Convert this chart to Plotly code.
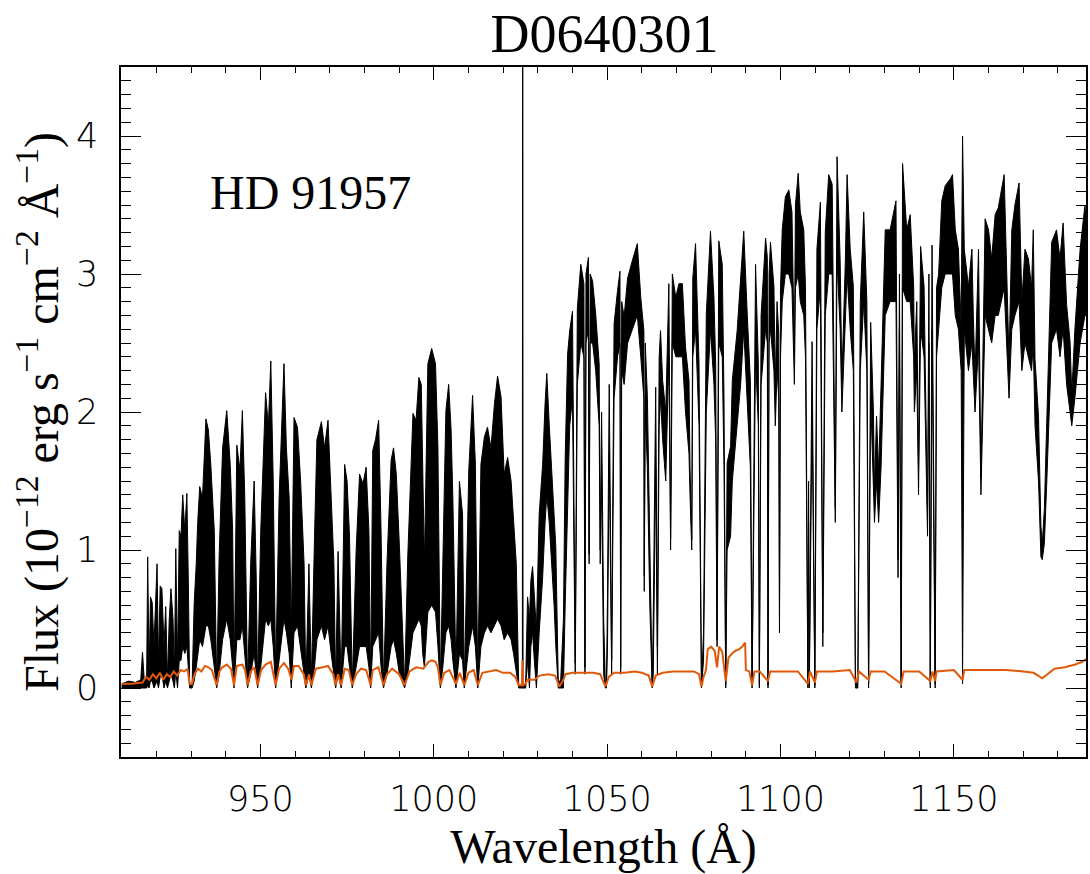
import plotly.graph_objects as go

# ---------------- data ----------------
# black spectrum: wavelength (A), upper and lower edge of the noisy flux band
wave_a = [910.0, 912.0, 914.0, 915.5, 916.0, 916.5, 917.2, 917.5, 917.9, 918.3,
          918.8, 919.3, 920.2, 920.6, 921.1, 921.6, 922.2, 922.7, 923.2, 923.7,
          924.2, 924.8, 925.2, 925.6, 926.1, 926.6, 927.1, 927.6, 928.2, 928.8,
          929.2, 929.6, 930.3, 930.9, 931.5, 931.9, 932.5, 933.3, 934.3, 935.0,
          935.7, 936.7, 937.4, 938.1, 939.1, 940.3, 941.3, 942.0, 942.4, 943.2,
          944.1, 944.8, 945.5, 946.3, 947.2, 948.2, 948.8, 949.2, 950.1, 950.8,
          951.5, 952.3, 953.0, 953.7, 954.4, 955.4, 956.8, 957.5, 958.3, 958.9,
          959.7, 960.7, 961.6, 962.6, 963.1, 964.0]
hi_a = [0.03, 0.05, 0.04, 0.06, 0.26, 0.06, 0.08, 0.95, 0.10, 0.66,
        0.62, 0.30, 0.90, 0.18, 0.74, 0.72, 0.30, 0.59, 0.06, 0.49,
        0.72, 0.50, 0.10, 1.01, 0.18, 1.14, 1.10, 1.40, 1.14, 1.41,
        0.80, 0.02, 0.02, 0.61, 0.90, 1.19, 1.46, 1.38, 1.95, 1.87,
        1.62, 1.14, 0.02, 0.95, 1.74, 2.01, 1.62, 1.14, 0.02, 1.76,
        1.58, 2.01, 1.38, 0.02, 0.90, 1.50, 0.80, 0.02, 1.14, 1.70,
        2.14, 1.90, 2.37, 1.50, 0.10, 1.38, 2.35, 1.74, 1.38, 0.40,
        1.96, 1.89, 1.50, 0.90, 0.02, 0.90]
lo_a = [0.0, 0.0, 0.0, 0.0, 0.0, 0.0, 0.0, 0.02, 0.0, 0.05,
        0.05, 0.0, 0.05, 0.0, 0.08, 0.10, 0.0, 0.05, 0.0, 0.05,
        0.10, 0.05, 0.0, 0.12, 0.0, 0.20, 0.20, 0.30, 0.25, 0.30,
        0.10, 0.0, 0.0, 0.05, 0.15, 0.25, 0.35, 0.30, 0.45, 0.45,
        0.35, 0.15, 0.0, 0.10, 0.35, 0.50, 0.35, 0.15, 0.0, 0.35,
        0.35, 0.45, 0.25, 0.0, 0.10, 0.25, 0.10, 0.0, 0.15, 0.35,
        0.50, 0.45, 0.50, 0.30, 0.0, 0.20, 0.50, 0.40, 0.25, 0.0,
        0.40, 0.45, 0.30, 0.10, 0.0, 0.10]

wave_b = [964.7, 965.6, 966.3, 967.6, 968.5, 969.5, 970.4, 971.2, 971.7, 972.4,
          973.3, 974.3, 975.0, 975.7, 976.5, 977.6, 978.6, 979.6, 980.5, 981.3,
          981.8, 982.4, 983.2, 984.1, 984.8, 985.5, 986.5, 987.7, 988.4, 989.2,
          990.1, 991.6, 992.5, 993.5, 994.0, 994.9, 995.7, 996.4, 996.8, 997.3,
          998.3, 999.4, 1000.5, 1001.2, 1001.9, 1002.6, 1003.5, 1004.3, 1005.0, 1005.5,
          1006.4, 1007.4, 1008.3, 1008.8, 1010.1, 1011.2, 1012.0, 1012.7, 1013.6, 1014.6,
          1015.5, 1016.5, 1017.5, 1018.4, 1019.4, 1020.3, 1021.3, 1022.3, 1023.0, 1023.8,
          1024.5, 1025.3, 1025.55, 1025.65, 1025.75, 1026.5]
hi_b = [0.05, 1.09, 1.80, 1.93, 1.74, 1.94, 1.35, 0.90, 0.02, 0.99,
        0.02, 1.62, 1.50, 1.10, 0.02, 0.99, 1.55, 1.48, 1.60, 1.14,
        0.02, 1.72, 1.80, 1.94, 1.14, 0.02, 0.90, 1.65, 1.74, 1.55,
        1.02, 0.02, 0.95, 1.62, 1.99, 1.94, 2.25, 2.20, 1.62, 0.90,
        2.35, 2.46, 2.35, 1.74, 0.02, 1.02, 2.01, 2.20, 1.87, 1.38,
        0.10, 1.50, 1.26, 0.02, 1.58, 2.12, 1.62, 0.02, 1.62, 1.82,
        1.89, 1.74, 2.06, 2.26, 2.11, 1.55, 1.67, 1.50, 1.24, 0.90,
        0.02, 0.02, 0.02, 8.00, 0.02, 0.03]
lo_b = [0.0, 0.15, 0.35, 0.45, 0.35, 0.45, 0.25, 0.10, 0.0, 0.10,
        0.0, 0.30, 0.30, 0.15, 0.0, 0.15, 0.30, 0.30, 0.30, 0.15,
        0.0, 0.30, 0.35, 0.40, 0.15, 0.0, 0.10, 0.30, 0.35, 0.25,
        0.10, 0.0, 0.10, 0.30, 0.40, 0.45, 0.50, 0.45, 0.25, 0.15,
        0.55, 0.60, 0.55, 0.30, 0.0, 0.15, 0.40, 0.45, 0.35, 0.20,
        0.0, 0.25, 0.20, 0.0, 0.30, 0.45, 0.30, 0.0, 0.30, 0.40,
        0.45, 0.40, 0.45, 0.50, 0.45, 0.35, 0.40, 0.35, 0.25, 0.10,
        0.0, 0.0, 0.0, 0.0, 0.0, 0.0]

wave_c = [1027.05, 1027.6, 1028.0, 1028.5, 1029.0, 1029.6, 1030.4, 1031.4, 1032.1, 1032.6,
          1033.3, 1034.1, 1034.7, 1035.2, 1035.9, 1036.6, 1037.4, 1037.9, 1038.6, 1039.2,
          1040.0, 1040.8, 1041.4, 1042.4, 1043.3, 1043.6, 1043.9, 1044.6, 1044.8, 1045.1,
          1045.8, 1046.7, 1047.7, 1048.0, 1048.4, 1049.0, 1049.5, 1049.8, 1050.1, 1050.6,
          1051.3, 1052.0, 1053.0, 1053.7, 1053.9, 1054.2, 1054.9, 1055.9, 1057.3, 1058.7,
          1059.7, 1060.6, 1060.7, 1061.0, 1061.6, 1062.3, 1063.0, 1063.3, 1064.0, 1064.5,
          1065.0, 1065.4, 1066.0, 1066.9, 1067.8, 1068.3, 1068.8, 1069.8, 1070.7, 1071.7,
          1072.6, 1073.6, 1073.9, 1074.4, 1074.7, 1075.5, 1076.5, 1077.2, 1077.8, 1078.6,
          1079.8, 1080.8, 1081.3, 1081.7, 1082.2, 1083.2, 1083.7, 1084.2, 1084.6, 1085.6,
          1086.1, 1087.5, 1088.5, 1089.4, 1090.4, 1091.3, 1091.8, 1092.2, 1092.8, 1093.6,
          1093.9]
hi_c = [0.66, 0.50, 0.78, 0.88, 0.70, 0.42, 1.26, 1.62, 2.06, 2.28,
        1.91, 1.50, 1.26, 1.02, 0.05, 0.05, 0.50, 1.67, 2.42, 2.59,
        2.73, 0.18, 2.75, 3.07, 2.93, 0.15, 3.00, 3.12, 0.97, 3.00,
        2.95, 2.71, 2.35, 1.00, 2.00, 0.50, 0.02, 0.02, 0.66, 2.20,
        0.20, 2.64, 2.88, 3.02, 0.15, 2.80, 2.69, 2.97, 3.10, 3.22,
        2.83, 2.59, 0.81, 2.50, 2.11, 1.14, 0.02, 0.50, 2.18, 0.30,
        2.40, 2.59, 2.23, 2.00, 2.93, 1.08, 3.00, 2.83, 2.93, 2.93,
        2.47, 2.23, 1.60, 1.07, 2.97, 3.22, 2.35, 0.02, 0.40, 2.71,
        3.31, 2.83, 2.35, 0.35, 3.24, 3.07, 2.11, 0.02, 1.63, 1.75,
        2.23, 2.59, 2.95, 3.31, 2.71, 2.23, 0.02, 1.50, 3.07, 2.35,
        0.02]
lo_c = [0.20, 0.0, 0.30, 0.40, 0.20, 0.0, 0.40, 0.80, 1.20, 1.40,
        1.20, 0.90, 0.60, 0.30, 0.0, 0.0, 0.0, 0.60, 1.40, 1.90,
        2.10, 0.10, 2.20, 2.50, 2.40, 0.10, 2.50, 2.60, 0.90, 2.50,
        2.50, 2.30, 1.90, 0.90, 1.50, 0.10, 0.0, 0.0, 0.30, 1.70,
        0.10, 2.10, 2.40, 2.50, 0.10, 2.30, 2.20, 2.50, 2.60, 2.70,
        2.40, 2.10, 0.70, 2.00, 1.60, 0.60, 0.0, 0.10, 1.60, 0.10,
        1.90, 2.10, 1.80, 1.50, 2.40, 1.00, 2.50, 2.40, 2.40, 2.40,
        2.00, 1.70, 1.40, 1.00, 2.40, 2.60, 1.90, 0.0, 0.20, 2.00,
        2.60, 2.20, 1.80, 0.30, 2.50, 2.40, 1.60, 0.0, 1.00, 1.10,
        1.50, 1.90, 2.20, 2.60, 2.10, 1.60, 0.0, 1.00, 2.40, 1.90,
        0.0]

wave_d = [1094.4, 1095.7, 1096.2, 1096.4, 1096.7, 1097.1, 1098.1, 1098.5, 1099.0, 1099.5,
          1099.7, 1100.0, 1100.5, 1101.4, 1102.4, 1103.3, 1104.0, 1104.3, 1105.1, 1105.7,
          1106.7, 1107.2, 1107.9, 1108.1, 1108.3, 1109.1, 1109.9, 1110.5, 1111.5, 1112.2,
          1112.9, 1113.9, 1114.9, 1115.8, 1116.3, 1117.2, 1117.7, 1118.7, 1119.2, 1120.1,
          1121.0, 1121.6, 1122.3, 1123.0, 1124.0, 1124.9, 1125.4, 1126.0, 1126.8, 1127.1,
          1127.7, 1128.3, 1129.0, 1129.8, 1130.2, 1131.6, 1132.6, 1133.3, 1133.9, 1134.3,
          1134.8, 1135.2, 1136.4, 1137.4, 1138.4, 1138.6, 1139.3, 1139.8, 1140.4, 1141.4,
          1142.4, 1142.8, 1143.2, 1143.7, 1144.6, 1145.0, 1145.6, 1146.5, 1147.5, 1149.0,
          1149.6, 1150.4, 1151.3, 1152.1, 1152.5, 1153.0, 1154.2, 1155.2, 1155.6, 1156.1,
          1157.1, 1157.8, 1159.0, 1160.0, 1160.9, 1161.9, 1162.8, 1164.5, 1165.2, 1165.9,
          1166.7, 1167.6, 1168.8, 1169.6, 1170.5, 1171.5, 1172.4, 1172.9, 1173.4, 1174.4,
          1175.1, 1175.5, 1176.1, 1176.8, 1177.4, 1178.2, 1179.6, 1180.6, 1181.5, 1182.5,
          1183.5, 1184.0, 1184.9, 1186.4, 1187.8, 1188.1]
hi_d = [2.70, 3.26, 3.12, 0.02, 3.00, 3.23, 2.91, 2.20, 2.80, 2.56,
        0.51, 2.90, 3.32, 3.56, 3.61, 3.45, 2.40, 3.50, 3.73, 3.45,
        3.32, 2.90, 0.02, 1.50, 0.02, 2.51, 0.02, 3.18, 3.52, 0.40,
        3.30, 3.72, 3.65, 1.30, 3.85, 3.10, 2.24, 3.10, 3.72, 3.18,
        2.91, 0.05, 0.05, 2.80, 3.45, 2.80, 0.03, 2.65, 2.00, 1.44,
        1.97, 1.57, 2.20, 3.00, 3.32, 3.32, 3.45, 3.53, 0.93, 3.00,
        0.03, 3.80, 3.32, 3.43, 2.91, 2.35, 2.80, 1.60, 3.20, 2.91,
        1.22, 3.00, 0.03, 3.21, 0.03, 2.90, 3.00, 3.53, 3.64, 3.69,
        3.72, 3.32, 3.18, 2.62, 4.00, 3.18, 2.91, 3.18, 2.70, 2.27,
        3.18, 1.52, 3.40, 3.32, 3.11, 3.43, 3.48, 3.72, 3.05, 2.38,
        3.32, 3.50, 3.66, 2.80, 3.18, 3.11, 2.90, 3.32, 2.38, 1.97,
        1.17, 1.05, 1.30, 1.97, 2.45, 3.23, 3.32, 3.11, 3.37, 2.78,
        2.51, 2.13, 2.60, 3.18, 3.50, 3.40]
lo_d = [2.20, 2.60, 2.50, 0.0, 2.50, 2.60, 2.30, 1.90, 2.30, 2.10,
        0.40, 2.40, 2.80, 3.00, 3.00, 2.90, 2.20, 2.90, 3.00, 2.80,
        2.70, 2.40, 0.0, 1.20, 0.0, 2.00, 0.0, 2.60, 2.90, 0.30,
        2.70, 3.00, 3.00, 1.20, 3.10, 2.60, 2.00, 2.60, 3.00, 2.60,
        2.30, 0.0, 0.0, 2.30, 2.80, 2.30, 0.0, 2.10, 1.50, 1.20,
        1.50, 1.20, 1.60, 2.40, 2.70, 2.80, 2.80, 2.80, 0.80, 2.60,
        0.0, 2.90, 2.80, 2.80, 2.40, 2.00, 2.30, 1.40, 2.60, 2.40,
        1.10, 2.50, 0.0, 2.60, 0.0, 2.40, 2.60, 2.90, 3.00, 3.00,
        3.00, 2.70, 2.60, 2.30, 0.03, 2.60, 2.30, 2.50, 2.30, 2.00,
        2.50, 1.40, 2.70, 2.60, 2.50, 2.70, 2.70, 2.90, 2.50, 2.10,
        2.60, 2.70, 2.80, 2.30, 2.50, 2.40, 2.30, 2.50, 1.90, 1.50,
        0.95, 0.93, 1.05, 1.50, 2.00, 2.50, 2.60, 2.40, 2.60, 2.20,
        2.00, 1.90, 2.10, 2.50, 2.70, 2.70]

# orange error spectrum
err_wave = [910, 913, 916, 917, 918, 919, 920, 921, 922, 923,
            924, 925, 926, 927, 928, 929, 929.6, 930.3, 931, 932,
            933, 934, 935, 936, 937.4, 938.2, 939, 940.3, 941.5, 942.4,
            943.2, 944.8, 945.6, 946.3, 947.2, 948.2, 949.2, 950.2, 951.5, 953,
            954.4, 955.4, 956.8, 958, 959, 959.7, 961, 962.5, 963.1, 964,
            964.7, 966, 968, 969.5, 971, 971.7, 972.4, 973.3, 974.3, 975.5,
            976.5, 977.6, 979, 980.5, 981.8, 982.4, 984, 985.5, 986.5, 988,
            990, 991.6, 993, 995, 997, 998.5, 999.5, 1000.5, 1001.2, 1001.9,
            1003, 1004.5, 1006.4, 1007.5, 1008.8, 1010, 1011.5, 1012.7, 1014, 1016,
            1018, 1020, 1022, 1023.5, 1024.5, 1025.4, 1025.6, 1025.8, 1026.5, 1027,
            1029, 1030.5, 1033, 1035, 1036.2, 1037.2, 1038, 1040, 1042, 1044,
            1046, 1048, 1049.5, 1050.5, 1052, 1055, 1058, 1060, 1062, 1063,
            1064, 1066, 1069, 1072, 1075, 1076.5, 1077.2, 1077.8, 1078.5, 1079,
            1080, 1081, 1081.7, 1082.3, 1083.2, 1084.2, 1085, 1086, 1087, 1088,
            1089, 1089.8, 1090, 1091, 1091.8, 1092.5, 1094, 1096.4, 1097, 1100,
            1105, 1107.9, 1108.5, 1109.9, 1110.5, 1115, 1120, 1121.9, 1122.6, 1125.4,
            1126, 1130, 1134.8, 1135.5, 1140, 1143.2, 1143.8, 1144.6, 1145, 1150,
            1152.5, 1153, 1160, 1165, 1170, 1173, 1175.5, 1177, 1179, 1182,
            1185, 1187, 1188.1]
err_flux = [0.03, 0.03, 0.04, 0.08, 0.06, 0.10, 0.07, 0.11, 0.06, 0.10,
            0.08, 0.12, 0.09, 0.13, 0.12, 0.14, 0.03, 0.03, 0.10, 0.14,
            0.12, 0.16, 0.15, 0.13, 0.02, 0.12, 0.15, 0.17, 0.14, 0.02,
            0.16, 0.17, 0.13, 0.02, 0.12, 0.15, 0.02, 0.13, 0.17, 0.19,
            0.02, 0.14, 0.18, 0.14, 0.06, 0.16, 0.16, 0.10, 0.02, 0.10,
            0.02, 0.14, 0.15, 0.16, 0.10, 0.02, 0.10, 0.02, 0.14, 0.13,
            0.02, 0.10, 0.14, 0.13, 0.02, 0.13, 0.15, 0.02, 0.10, 0.14,
            0.10, 0.02, 0.12, 0.15, 0.14, 0.19, 0.20, 0.19, 0.15, 0.02,
            0.11, 0.13, 0.03, 0.11, 0.02, 0.11, 0.13, 0.02, 0.11, 0.12,
            0.13, 0.11, 0.11, 0.08, 0.02, 0.02, 0.20, 0.02, 0.03, 0.06,
            0.06, 0.09, 0.10, 0.09, 0.01, 0.05, 0.10, 0.11, 0.11, 0.11,
            0.11, 0.10, 0.01, 0.08, 0.11, 0.11, 0.12, 0.11, 0.09, 0.01,
            0.09, 0.11, 0.12, 0.12, 0.12, 0.10, 0.01, 0.08, 0.13, 0.28,
            0.30, 0.27, 0.15, 0.30, 0.26, 0.05, 0.22, 0.25, 0.27, 0.28,
            0.30, 0.33, 0.13, 0.12, 0.02, 0.12, 0.12, 0.05, 0.12, 0.12,
            0.12, 0.03, 0.12, 0.04, 0.12, 0.12, 0.13, 0.04, 0.12, 0.06,
            0.12, 0.12, 0.03, 0.12, 0.12, 0.05, 0.12, 0.05, 0.12, 0.13,
            0.06, 0.13, 0.13, 0.13, 0.12, 0.11, 0.07, 0.10, 0.14, 0.15,
            0.17, 0.19, 0.21]

x_range = [909.8, 1188.1]
y_range = [-0.5, 4.5]
x_ticks = [950, 1000, 1050, 1100, 1150]
y_ticks = [0, 1, 2, 3, 4]

title_text = "D0640301"
star_name = "HD 91957"

# ---------------- figure ----------------
wave = wave_a + wave_b + wave_c + wave_d
flux_hi = hi_a + hi_b + hi_c + hi_d
flux_lo = lo_a + lo_b + lo_c + lo_d

serif = "Liberation Serif"
thin = "DejaVu Sans"
orange = "#e0590b"

fig = go.Figure()
fig.add_trace(go.Scatter(x=wave, y=flux_lo, mode="lines",
                         line=dict(color="black", width=1), hoverinfo="skip"))
fig.add_trace(go.Scatter(x=wave, y=flux_hi, mode="lines", fill="tonexty",
                         fillcolor="black", line=dict(color="black", width=1)))
fig.add_trace(go.Scatter(x=err_wave, y=err_flux, mode="lines",
                         line=dict(color=orange, width=2)))

fig.add_annotation(x=934.8, y=3.59, xref="x", yref="y", text=star_name,
                   showarrow=False, xanchor="left", yanchor="middle",
                   font=dict(family=serif, size=48, color="black"))

fig.update_layout(
    width=1090, height=874,
    margin=dict(l=121, r=2, t=67, b=117),
    paper_bgcolor="white", plot_bgcolor="white",
    showlegend=False,
    title=dict(text=title_text, x=0.5545, xanchor="center",
               y=1 - 33 / 874, yanchor="middle", yref="container",
               font=dict(family=serif, size=54, color="black")),
)
fig.update_xaxes(
    range=x_range, tickvals=x_ticks, showgrid=False, zeroline=False,
    showline=True, linecolor="black", linewidth=1.5, mirror="ticks",
    ticks="inside", ticklen=13, tickwidth=1.3, tickcolor="black",
    minor=dict(ticks="inside", ticklen=6, dtick=10, tick0=910, tickcolor="black", tickwidth=1),
    tickfont=dict(family=thin, size=35, color="black", weight=200),
    ticklabelstandoff=10,
    title=dict(text="Wavelength (Å)", font=dict(family=serif, size=48, color="black"),
               standoff=16),
)
fig.update_yaxes(
    range=y_range, tickvals=y_ticks, showgrid=False, zeroline=False,
    showline=True, linecolor="black", linewidth=1.5, mirror="ticks",
    ticks="inside", ticklen=20, tickwidth=1.3, tickcolor="black",
    minor=dict(ticks="inside", ticklen=10, dtick=0.1, tick0=0, tickcolor="black", tickwidth=1),
    tickfont=dict(family=thin, size=35, color="black", weight=200),
    ticklabelstandoff=14,
    title=dict(text="Flux (10<sup>−12</sup> erg s<sup>−1</sup> cm<sup>−2</sup> Å<sup>−1</sup>)",
               font=dict(family=serif, size=48, color="black"), standoff=2),
)

fig.write_html("out.html")
